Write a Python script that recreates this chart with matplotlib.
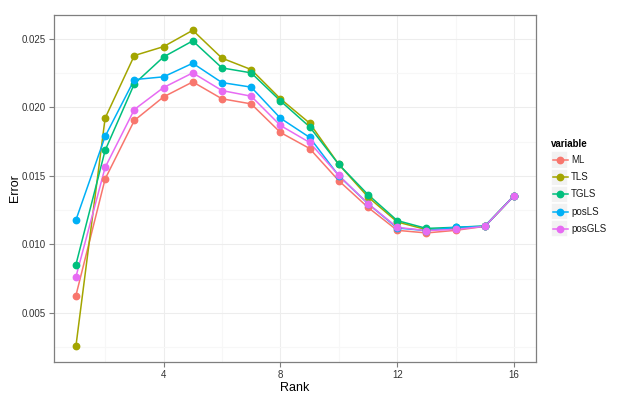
import matplotlib
matplotlib.use('Agg')
import matplotlib.pyplot as plt
from matplotlib.patches import Rectangle
from matplotlib.lines import Line2D

plt.rcParams['font.family'] = ['Liberation Sans', 'DejaVu Sans']

# Data
rank = list(range(1, 17))
series_names = ['ML', 'TLS', 'TGLS', 'posLS', 'posGLS']
ml = [0.00628, 0.01477, 0.01903, 0.02075, 0.02184, 0.02061, 0.02024, 0.01816,
      0.01699, 0.01464, 0.01270, 0.01103, 0.01084, 0.01103, 0.01132, 0.01355]
tls = [0.00259, 0.01920, 0.02376, 0.02441, 0.02560, 0.02357, 0.02274, 0.02061,
       0.01884, 0.01583, 0.01346, 0.01164, 0.01108, 0.01118, 0.01132, 0.01355]
tgls = [0.00853, 0.01685, 0.02170, 0.02366, 0.02483, 0.02286, 0.02250, 0.02046,
        0.01857, 0.01583, 0.01363, 0.01174, 0.01117, 0.01125, 0.01135, 0.01355]
posls = [0.01178, 0.01787, 0.02201, 0.02221, 0.02320, 0.02179, 0.02146, 0.01920,
         0.01780, 0.01500, 0.01297, 0.01120, 0.01101, 0.01125, 0.01132, 0.01355]
posgls = [0.00764, 0.01561, 0.01983, 0.02143, 0.02250, 0.02121, 0.02080, 0.01867,
          0.01743, 0.01503, 0.01297, 0.01125, 0.01101, 0.01110, 0.01132, 0.01355]
values = [ml, tls, tgls, posls, posgls]
colors = ['#F8766D', '#A3A500', '#00BF7D', '#00B0F6', '#E76BF3']

fig = plt.figure(figsize=(6.32, 4.0), dpi=100)
W, H = 632, 400
ax = fig.add_axes([54 / W, 38 / H, (536 - 54) / W, (362 - 14.5) / H])

# lines first, then points on top (like ggplot layers)
for vals, c in zip(values, colors):
    ax.plot(rank, vals, color=c, lw=1.1, zorder=3)
for vals, c in zip(values, colors):
    ax.plot(rank, vals, ls='none', marker='o', ms=4.6, color=c, mec=c, zorder=4)

ax.set_xlim(0.25, 16.75)
ax.set_ylim(0.00144, 0.02675)
ax.set_xticks([4, 8, 12, 16])
ax.set_xticks([2, 6, 10, 14], minor=True)
ax.set_yticks([0.005, 0.010, 0.015, 0.020, 0.025])
ax.set_yticks([0.0025, 0.0075, 0.0125, 0.0175, 0.0225], minor=True)
ax.set_yticklabels(['0.005', '0.010', '0.015', '0.020', '0.025'])
ax.grid(which='major', color='#EDEDED', lw=0.8, zorder=0)
ax.grid(which='minor', color='#F7F7F7', lw=0.8, zorder=0)
ax.tick_params(which='major', length=3.4, width=0.8, color='#7F7F7F',
               labelsize=7, labelcolor='#333333', pad=2.5)
ax.tick_params(which='minor', length=0)
for sp in ax.spines.values():
    sp.set_color('#7F7F7F')
    sp.set_linewidth(0.9)
ax.set_xlabel('Rank', fontsize=9, labelpad=1.5)
ax.set_ylabel('Error', fontsize=9, labelpad=0.5)

# legend drawn by hand in pixel coords
fig.text(551 / W, 1 - 144 / H, 'variable', fontsize=7, fontweight='bold',
         va='center', ha='left')
y0 = 160
step = 17.2
for i, (name, c) in enumerate(zip(series_names, colors)):
    yc = y0 + i * step
    fig.add_artist(Rectangle((551 / W, 1 - (yc + 8.6) / H), 17.2 / W, 17.2 / H,
                             transform=fig.transFigure, facecolor='#F2F2F2',
                             edgecolor='white', lw=1.2))
    fig.add_artist(Line2D([552.5 / W, 567.5 / W], [1 - yc / H, 1 - yc / H],
                          transform=fig.transFigure, color=c, lw=1.1))
    fig.add_artist(Line2D([560 / W], [1 - yc / H], transform=fig.transFigure,
                          ls='none', marker='o', ms=4.6, color=c))
    fig.text(571 / W, 1 - yc / H, name, fontsize=7, va='center', ha='left',
             color='#1A1A1A')

fig.savefig('out.png', dpi=100)
